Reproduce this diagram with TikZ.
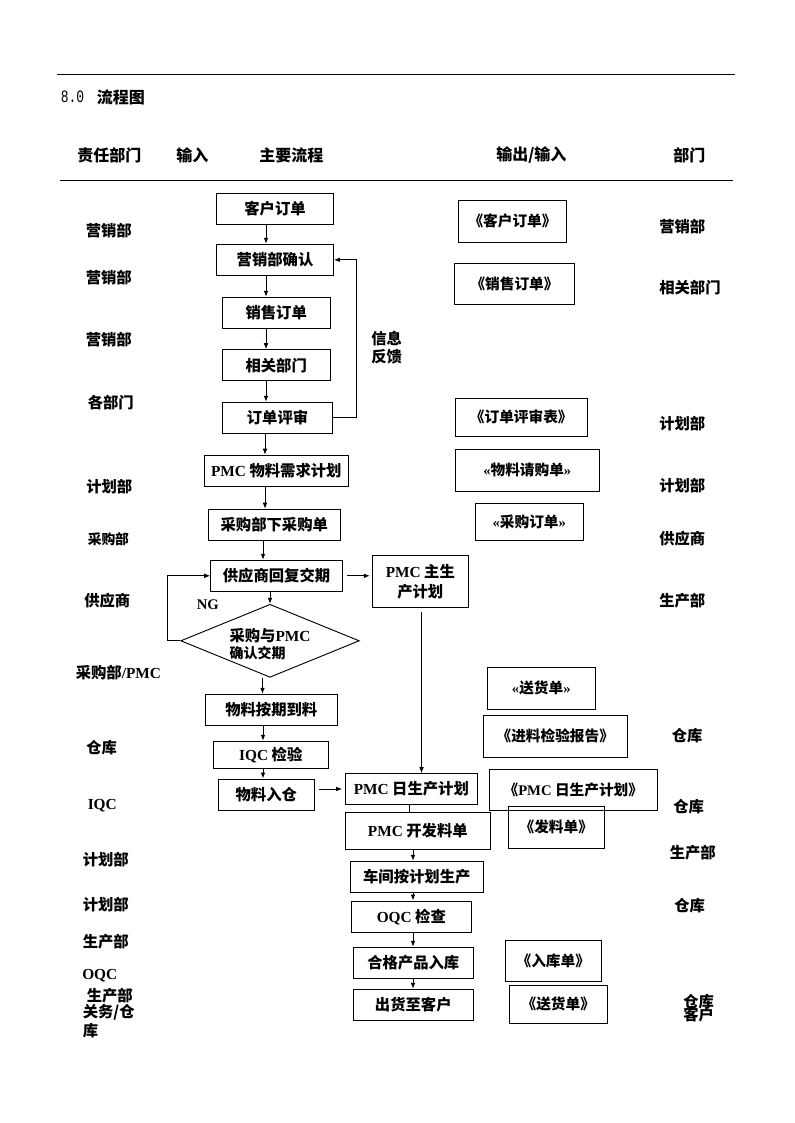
\documentclass[tikz,border=0pt]{standalone}
\usepackage{fontspec}
\usepackage{graphicx}
\setmainfont{Liberation Serif}
\newfontfamily\cjk{Noto Sans CJK SC}
\newfontfamily\tnr{Liberation Serif}
\newfontfamily\monof{Liberation Mono}
\newcommand\latn[1]{{\tnr\bfseries #1}}
\usetikzlibrary{arrows.meta,shapes.geometric}
\begin{document}
\begin{tikzpicture}[x=0.75pt,y=-0.75pt,
  every node/.style={inner sep=0pt},
  txt/.style={font=\cjk\bfseries\fontsize{11.5}{13}\selectfont},
  box/.style={draw, line width=0.7pt, txt},
  docbox/.style={draw, line width=0.7pt, font=\cjk\bfseries\fontsize{11}{13}\selectfont},
  wh/.style 2 args={minimum width=#1*0.75pt, minimum height=#2*0.75pt},
  lbl/.style={txt, anchor=west},
  hdr/.style={font=\cjk\bfseries\fontsize{12}{14}\selectfont, anchor=west},
  arr/.style={line width=0.7pt, -{Latex[length=4.5pt,width=3.5pt]}},
  ln/.style={line width=0.7pt}]
\useasboundingbox (0,0) rectangle (794,1123);

% header
\coordinate (t1) at (57,74.3);
\coordinate (t2) at (735,74.3);
\draw[ln] (t1) -- (t2);
\coordinate (h1) at (60,180.5);
\coordinate (h2) at (733,180.5);
\draw[ln] (h1) -- (h2);
\node[anchor=west, font=\monof\fontsize{13}{14}\selectfont] (tn) at (60.5,97) {\scalebox{0.75}[1]{8.0}};
\node[hdr] (tt) at (96.5,97) {流程图};
\node[hdr] (hA) at (77,155) {责任部门};
\node[hdr] (hB) at (176,155) {输入};
\node[hdr] (hC) at (259,155) {主要流程};
\node[hdr] (hD) at (496,155) {输出/输入};
\node[hdr] (hE) at (673,155) {部门};

% main flow
\node[box, wh={117}{31}] (cust) at (275,208.8) {客户订单};
\node[box, wh={117}{31}] (conf) at (275,259.8) {营销部确认};
\node[box, wh={108}{31}] (sord) at (276.2,312.8) {销售订单};
\node[box, wh={108}{31}] (rel) at (276.2,365.2) {相关部门};
\node[box, wh={110.4}{31}] (rev) at (277.5,417.8) {订单评审};
\node[box, wh={144}{31}] (mrp) at (276.3,470.7) {\latn{PMC} 物料需求计划};
\node[box, wh={132}{31}] (po) at (274.3,524.7) {采购部下采购单};
\node[box, wh={131.6}{31}] (sup) at (276.5,575.8) {供应商回复交期};
\node[box, wh={96}{51.6}, align=center, font=\cjk\bfseries\fontsize{11.5}{14.8}\selectfont] (pmcmain) at (420.3,581.5) {\latn{PMC} 主生\\产计划};
\node[diamond, draw, line width=0.7pt, aspect=2.45, wh={178.6}{73}, align=left, txt] (dia) at (270,640.8) {\rule{0pt}{14.5pt}采购与\latn{PMC}\\{\fontsize{10.5}{12}\selectfont 确认交期}};
\node[box, wh={132}{31}] (arrive) at (271.3,709.8) {物料按期到料};
\node[box, wh={115}{27}] (iqc) at (270.8,754.8) {\latn{IQC} 检验};
\node[box, wh={96}{31}] (instock) at (266.3,794.5) {物料入仓};
\node[box, wh={132}{30.6}] (pmcday) at (411.3,789) {\latn{PMC} 日生产计划};
\node[box, wh={145}{37}] (pmcdev) at (417.8,830.8) {\latn{PMC} 开发料单};
\node[box, wh={133}{31}] (work) at (416.8,876.8) {车间按计划生产};
\node[box, wh={120}{31.3}] (oqc) at (411.3,916.7) {\latn{OQC} 检查};
\node[box, wh={120}{31}] (okin) at (413.3,962.8) {合格产品入库};
\node[box, wh={120}{31}] (ship) at (413.3,1004.8) {出货至客户};

% documents
\node[docbox, wh={108.4}{42.3}] (d1) at (512.5,221.2) {《客户订单》};
\node[docbox, wh={120.4}{40.7}] (d2) at (514.5,283.7) {《销售订单》};
\node[docbox, wh={132}{37.7}] (d3) at (521.3,417.2) {《订单评审表》};
\node[docbox, wh={144}{42}] (d4) at (527.3,470.3) {\latn{«}物料请购单\latn{»}};
\node[docbox, wh={108}{37}] (d5) at (529.3,521.8) {\latn{«}采购订单\latn{»}};
\node[docbox, wh={108}{42}] (d6) at (541.3,688.3) {\latn{«}送货单\latn{»}};
\node[docbox, wh={144}{42}] (d7) at (555.3,736.3) {《进料检验报告》};
\node[docbox, wh={168}{40.7}] (d8) at (573.3,789.7) {《\latn{PMC} 日生产计划》};
\node[docbox, wh={96}{42}] (d9) at (556.3,827.3) {《发料单》};
\node[docbox, wh={96}{41}] (d10) at (553.3,960.8) {《入库单》};
\node[docbox, wh={98}{38.3}] (d11) at (558.3,1004.2) {《送货单》};

% connector columns
\coordinate (vA) at (266,0);
\coordinate (vB) at (265,0);
\coordinate (vC) at (263,0);
\coordinate (vD) at (262.5,0);
\coordinate (vE) at (421.5,0);
\coordinate (vF) at (409,0);
\coordinate (vG) at (413,0);
\coordinate (lx) at (167,0);
\coordinate (fx) at (356,0);

\draw[arr] (cust.south -| vA) -- (conf.north -| vA);
\draw[arr] (conf.south -| vA) -- (sord.north -| vA);
\draw[arr] (sord.south -| vA) -- (rel.north -| vA);
\draw[arr] (rel.south -| vA) -- (rev.north -| vA);
\draw[arr] (rev.south -| vB) -- (mrp.north -| vB);
\draw[arr] (mrp.south -| vB) -- (po.north -| vB);
\draw[arr] (po.south -| vC) -- (sup.north -| vC);
\draw[arr] (sup.south -| dia.north) -- (dia.north);
\draw[arr] (dia.south -| vD) -- (arrive.north -| vD);
\draw[arr] (arrive.south -| vC) -- (iqc.north -| vC);
\draw[arr] (iqc.south -| vC) -- (instock.north -| vC);
\draw[arr] (dia.west) -- (lx |- dia.west) |- (sup.west);
\draw[arr] (rev.east) -- (fx |- rev.east) |- (conf.east);
\draw[arr, shorten <=3pt, shorten >=1.5pt] (sup.east) -- (pmcmain.west |- sup.east);
\draw[arr, shorten <=3pt] (pmcmain.south -| vE) -- (pmcday.north -| vE);
\draw[arr, shorten <=3pt, shorten >=2pt] (instock.east |- pmcday.west) -- (pmcday.west);
\draw[ln] (pmcday.south -| vF) -- (pmcdev.north -| vF);
\draw[arr] (pmcdev.south -| vG) -- (work.north -| vG);
\draw[arr] (work.south -| vG) -- (oqc.north -| vG);
\draw[arr] (oqc.south -| vG) -- (okin.north -| vG);
\draw[arr] (okin.south -| vG) -- (ship.north -| vG);

% flow labels
\node[anchor=west, font=\tnr\bfseries\fontsize{11}{13}\selectfont] (ng) at (196.5,605) {NG};
\node[lbl, align=left, font=\cjk\bfseries\fontsize{11.5}{13.5}\selectfont] (fb) at (371,348) {信息\\反馈};

% left department labels
\node[lbl] (l1) at (85.5,231) {营销部};
\node[lbl] (l2) at (85.5,278) {营销部};
\node[lbl] (l3) at (85.5,339.5) {营销部};
\node[lbl] (l4) at (87.5,403) {各部门};
\node[lbl] (l5) at (86,486.5) {计划部};
\node[lbl, font=\cjk\bfseries\fontsize{10.3}{12}\selectfont] (l6) at (87.5,539) {采购部};
\node[lbl] (l7) at (84,601) {供应商};
\node[lbl] (l8) at (75.5,672.5) {采购部\latn{/PMC}};
\node[lbl] (l9) at (86,747.5) {仓库};
\node[lbl] (l10) at (87.5,806) {\latn{IQC}};
\node[lbl] (l11) at (82.5,860) {计划部};
\node[lbl] (l12) at (82.5,905) {计划部};
\node[lbl] (l13) at (82.5,941.5) {生产部};
\node[lbl] (l14) at (82,976) {\latn{OQC}};
\node[lbl] (l15) at (86.5,996) {生产部};
\node[lbl] (l16) at (82.5,1012) {关务/仓};
\node[lbl] (l17) at (82.5,1031) {库};

% right department labels
\node[lbl] (r1) at (659,226.5) {营销部};
\node[lbl] (r2) at (659,288) {相关部门};
\node[lbl] (r3) at (659,423.3) {计划部};
\node[lbl] (r4) at (659,485.7) {计划部};
\node[lbl] (r5) at (659,538.3) {供应商};
\node[lbl] (r6) at (659,600.5) {生产部};
\node[lbl] (r7) at (671.5,736) {仓库};
\node[lbl] (r8) at (673,806.3) {仓库};
\node[lbl] (r9) at (669.5,852.7) {生产部};
\node[lbl] (r10) at (674,905.3) {仓库};
\node[lbl] (r11) at (683,1001.5) {仓库};
\node[lbl] (r12) at (683,1015) {客户};
\end{tikzpicture}
\end{document}
